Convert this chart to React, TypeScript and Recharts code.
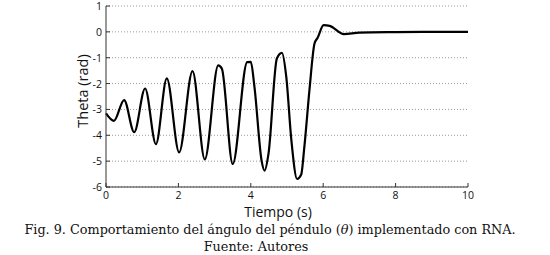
import React from 'react';
import { CartesianGrid, Line, LineChart, XAxis, YAxis } from 'recharts';

// values (time in s, angle in rad)
const times = [
  0, 0.22, 0.5, 0.78, 1.08, 1.38, 1.68, 2.02, 2.39, 2.73, 3.1, 3.2, 3.5, 3.9, 4.0, 4.1, 4.3, 4.38, 4.49,
  4.72, 4.86, 4.98, 5.12, 5.28, 5.39, 5.48, 5.62, 5.76, 5.85, 6.01, 6.18, 6.57, 7, 8, 9, 10,
];
const theta = [
  -3.15, -3.44, -2.64, -3.88, -2.19, -4.34, -1.8, -4.66, -1.52, -4.93, -1.3, -1.42, -5.11, -1.17, -1.16, -2.12, -5.0,
  -5.37, -4.7, -1.03, -0.81, -1.74, -4.18, -5.69, -5.53, -4.44, -2.25, -0.45, -0.22, 0.26, 0.23, -0.09, -0.03, -0.01, 0, 0,
];
const xTicks = [0, 2, 4, 6, 8, 10];
const yTicks = [-6, -5, -4, -3, -2, -1, 0, 1];

const data = times.map((t, i) => ({ t, theta: theta[i] }));

const tickFont = { fontFamily: 'Open Sans', fontSize: 10.5, fill: '#111' };
const serif = { fontFamily: 'DejaVu Serif', fontSize: 12.8, fill: '#111' };

const XTick = (props: any) => {
  const { x, y, payload } = props;
  return (
    <g>
      <line x1={x} y1={y} x2={x} y2={y - 4} stroke="#333" />
      <text x={x} y={y + 12} textAnchor="middle" {...tickFont}>
        {payload.value}
      </text>
    </g>
  );
};

const YTick = (props: any) => {
  const { x, y, payload } = props;
  return (
    <g>
      <line x1={x} y1={y} x2={x + 4} y2={y} stroke="#333" />
      <text x={x - 4} y={y + 4} textAnchor="end" {...tickFont}>
        {payload.value}
      </text>
    </g>
  );
};

export default function App() {
  return (
    <div style={{ position: 'absolute', left: 0, top: 0, width: 550, height: 255, background: '#fff' }}>
      <LineChart width={550} height={255} data={data} margin={{ top: 6, right: 82, bottom: 0, left: 0 }}>
        <CartesianGrid vertical={false} stroke="#999" strokeDasharray="1 2" />
        <XAxis
          dataKey="t"
          type="number"
          domain={[0, 10]}
          ticks={xTicks}
          interval={0}
          height={68}
          tickSize={0}
          tickMargin={0}
          stroke="#333"
          tick={<XTick />}
        />
        <YAxis
          type="number"
          domain={[-6, 1]}
          ticks={yTicks}
          interval={0}
          width={106}
          tickSize={0}
          tickMargin={0}
          stroke="#333"
          tick={<YTick />}
        />
        <Line
          type="monotone"
          dataKey="theta"
          stroke="#000"
          strokeWidth={2.2}
          dot={false}
          isAnimationActive={false}
        />
        <text
          x={0}
          y={0}
          transform="translate(88, 91) rotate(-90)"
          textAnchor="middle"
          style={{ fontFamily: 'Open Sans', fontSize: 14.5, fill: '#111' }}
        >
          Theta (rad)
        </text>
        <text
          x={278}
          y={217}
          textAnchor="middle"
          style={{ fontFamily: 'Open Sans', fontSize: 14, fill: '#111' }}
        >
          Tiempo (s)
        </text>
        <text x={270} y={234} textAnchor="middle" style={serif}>
          Fig. 9. Comportamiento del ángulo del péndulo (<tspan fontStyle="italic">θ</tspan>) implementado con RNA.
        </text>
        <text x={256} y={251} textAnchor="middle" style={serif}>
          Fuente: Autores
        </text>
      </LineChart>
    </div>
  );
}
